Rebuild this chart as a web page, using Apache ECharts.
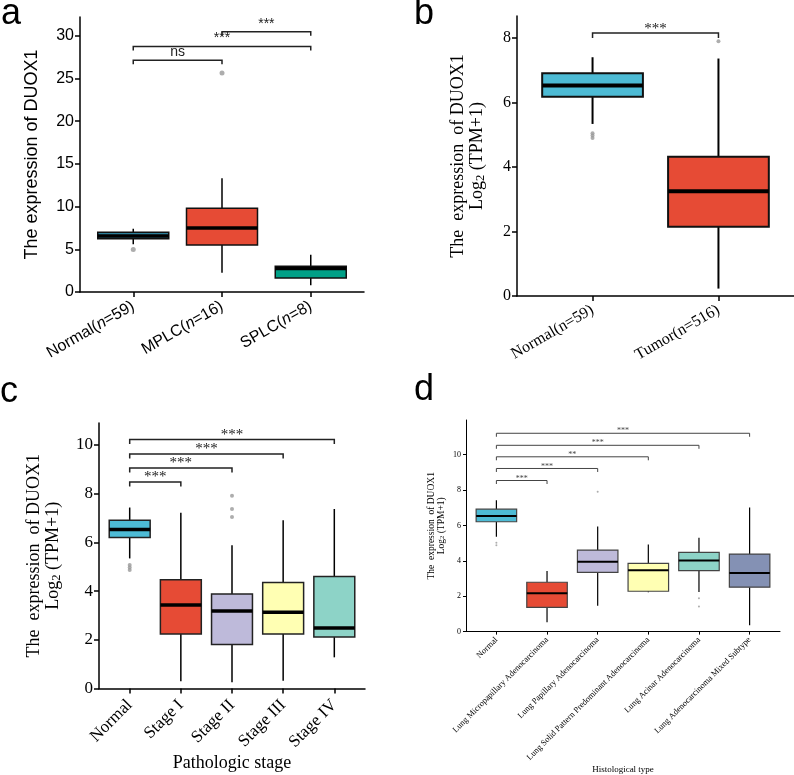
<!DOCTYPE html>
<html>
<head>
<meta charset="utf-8">
<script src="https://cdn.jsdelivr.net/npm/echarts@6/dist/echarts.min.js"></script>
<style>
  html, body { margin: 0; background: #fff; }
  #chart { width: 794px; height: 775px; }
</style>
</head>
<body>
<div id="chart"></div>
<script>
// ---- panel a: DUOX1 in Normal / MPLC / SPLC ----
const catsA = ['Normal', 'MPLC', 'SPLC'];
const nA = [59, 16, 8];
// [min, Q1, median, Q3, max]
const boxA = [
  [5.6, 6.24, 6.55, 6.99, 7.42],
  [2.24, 5.5, 7.5, 9.82, 13.31],
  [0.79, 1.65, 2.75, 3.02, 4.36]
];
const outA = [[1, 4.99], [2, 25.64]];
const sigA = [[1, 2, 27.13], [1, 3, 28.74], [2, 3, 30.47]];
const sigLabA = ['ns', '***', '***'];
const ticksA = [0, 5, 10, 15, 20, 25, 30];

// ---- panel b: Normal vs Tumor ----
const catsB = ['Normal(n=59)', 'Tumor(n=516)'];
const boxB = [
  [5.34, 6.18, 6.53, 6.91, 7.41],
  [0.23, 2.15, 3.25, 4.32, 7.37]
];
const outB = [[1, 5.05], [1, 4.98], [1, 4.9], [2, 7.91]];
const sigB = [[1, 2, 8.16]];
const sigLabB = ['***'];
const ticksB = [0, 2, 4, 6, 8];

// ---- panel c: pathologic stage ----
const catsC = ['Normal', 'Stage I', 'Stage II', 'Stage III', 'Stage IV'];
const boxC = [
  [5.34, 6.2, 6.53, 6.91, 7.43],
  [0.3, 2.24, 3.43, 4.46, 7.22],
  [0.26, 1.81, 3.18, 3.88, 5.88],
  [0.32, 2.24, 3.13, 4.35, 6.91],
  [1.28, 2.11, 2.48, 4.6, 7.37]
];
const outC = [[1, 5.07], [1, 4.97], [1, 4.87], [3, 7.91], [3, 7.37], [3, 7.04]];
const sigC = [[1, 2, 8.48], [1, 3, 9.05], [1, 4, 9.63], [1, 5, 10.22]];
const sigLabC = ['***', '***', '***', '***'];
const ticksC = [0, 2, 4, 6, 8, 10];

// ---- panel d: histological type ----
const catsD = ['Normal', 'Lung Micropapillary Adenocarcinoma', 'Lung Papillary Adenocarcinoma',
  'Lung Solid Pattern Predominant Adenocarcinoma', 'Lung Acinar Adenocarcinoma',
  'Lung Adenocarcinoma Mixed Subtype'];
const boxD = [
  [5.36, 6.21, 6.53, 6.92, 7.42],
  [0.53, 1.37, 2.17, 2.79, 3.42],
  [1.46, 3.35, 3.95, 4.61, 5.94],
  [2.22, 2.28, 3.47, 3.86, 4.93],
  [2.24, 3.45, 4.02, 4.48, 5.3],
  [0.36, 2.51, 3.31, 4.38, 7.01]
];
const outD = [[1, 5.02], [1, 4.88], [3, 7.9], [5, 1.89], [5, 1.42]];
const sigD = [[1, 2, 8.54], [1, 3, 9.22], [1, 4, 9.88], [1, 5, 10.53], [1, 6, 11.21]];
const sigLabD = ['***', '***', '**', '***', '***'];
const ticksD = [0, 2, 4, 6, 8, 10];

const SANS = 'Liberation Sans, Arial, sans-serif';
const SERIF = 'Liberation Serif, Times New Roman, serif';

const chart = echarts.init(document.getElementById('chart'));

function boxRender(colors, st) {
  return function (params, api) {
    const x = api.value(0);
    const pMin = api.coord([x, api.value(1)]);
    const pQ1 = api.coord([x, api.value(2)]);
    const pMed = api.coord([x, api.value(3)]);
    const pQ3 = api.coord([x, api.value(4)]);
    const pMax = api.coord([x, api.value(5)]);
    const xl = api.coord([x - 0.4, 0])[0];
    const xr = api.coord([x + 0.4, 0])[0];
    return {
      type: 'group',
      children: [
        { type: 'line', shape: { x1: pMin[0], y1: pMin[1], x2: pQ1[0], y2: pQ1[1] },
          style: { stroke: '#000', lineWidth: st.lw } },
        { type: 'line', shape: { x1: pQ3[0], y1: pQ3[1], x2: pMax[0], y2: pMax[1] },
          style: { stroke: '#000', lineWidth: st.lw } },
        { type: 'rect', shape: { x: xl, y: pQ3[1], width: xr - xl, height: pQ1[1] - pQ3[1] },
          style: { fill: colors[params.dataIndex], stroke: st.border, lineWidth: st.bw } },
        { type: 'line', shape: { x1: xl, y1: pMed[1], x2: xr, y2: pMed[1] },
          style: { stroke: '#000', lineWidth: st.mw } }
      ]
    };
  };
}

function sigRender(labels, st) {
  return function (params, api) {
    const y = api.value(2);
    const p1 = api.coord([api.value(0), y]);
    const p2 = api.coord([api.value(1), y]);
    return {
      type: 'group',
      children: [
        { type: 'polyline',
          shape: { points: [[p1[0], p1[1] + st.drop], [p1[0], p1[1]], [p2[0], p2[1]], [p2[0], p2[1] + st.drop]] },
          style: { stroke: st.color, lineWidth: st.lw, fill: null } },
        { type: 'text', x: (p1[0] + p2[0]) / 2, y: p1[1] - st.gap,
          style: { text: labels[params.dataIndex], align: 'center', verticalAlign: 'bottom',
                   fontSize: st.fs, fontFamily: st.font, fill: st.color } }
      ]
    };
  };
}

const grids = [
  { left: 80, top: 17, width: 284, height: 275 },
  { left: 517, top: 16, width: 277, height: 280 },
  { left: 99, top: 423, width: 266, height: 265.5 },
  { left: 466, top: 420, width: 314, height: 224 }
];

function xAxisFor(i, n, cats, st) {
  const vals = cats.map((c, k) => k + 1);
  return {
    type: 'value', gridIndex: i, min: 0.4, max: n + 0.6,
    axisLine: { show: true, lineStyle: { color: '#000', width: st.aw } },
    axisTick: { show: true, customValues: vals, length: st.tl, lineStyle: { color: '#000', width: st.aw } },
    axisLabel: {
      customValues: vals, rotate: st.rot, margin: st.lm, color: '#000',
      fontSize: st.fs, fontFamily: st.font,
      formatter: st.fmt || (v => cats[Math.round(v) - 1]),
      rich: st.rich
    },
    splitLine: { show: false },
    name: st.name || '', nameLocation: 'middle', nameGap: st.ng || 0,
    nameTextStyle: { fontSize: st.nfs, fontFamily: st.font, color: '#000' }
  };
}

function yAxisFor(i, max, ticks, st) {
  return {
    type: 'value', gridIndex: i, min: 0, max: max,
    axisLine: { show: true, lineStyle: { color: '#000', width: st.aw } },
    axisTick: { show: true, customValues: ticks, length: st.tl, lineStyle: { color: '#000', width: st.aw } },
    axisLabel: { customValues: ticks, color: '#000', fontSize: st.fs, fontFamily: st.font, margin: st.lm },
    splitLine: { show: false },
    name: st.name, nameLocation: 'middle', nameRotate: 90, nameGap: st.ng,
    nameTextStyle: {
      fontSize: st.nfs, fontFamily: st.font, color: '#000', lineHeight: st.nlh,
      rich: {
        n: { fontSize: st.nfs, fontFamily: st.font, color: '#000', lineHeight: st.nlh },
        s: { fontSize: st.nfs * 0.7, fontFamily: st.font, color: '#000', lineHeight: st.nfs * 0.45, verticalAlign: 'bottom' }
      }
    }
  };
}

const yName2 = 'The  expression  of DUOX1\n{n|Log}{s|2}{n| (TPM+1)}';

const option = {
  animation: false,
  backgroundColor: '#fff',
  grid: grids,
  xAxis: [
    xAxisFor(0, 3, catsA, {
      aw: 1.5, tl: 5, rot: 30, lm: 13, fs: 16, font: SANS,
      fmt: v => { const k = Math.round(v) - 1; return '{t|' + catsA[k] + '(}{i|n}{t|=' + nA[k] + ')}'; },
      rich: { t: { fontSize: 16, fontFamily: SANS, color: '#000' },
              i: { fontSize: 16, fontFamily: SANS, fontStyle: 'italic', color: '#000' } }
    }),
    xAxisFor(1, 2, catsB, { aw: 1.5, tl: 5, rot: 30, lm: 13, fs: 16, font: SERIF }),
    xAxisFor(2, 5, catsC, { aw: 1.5, tl: 5, rot: 45, lm: 14, fs: 17, font: SERIF,
      name: 'Pathologic stage', ng: 66, nfs: 18 }),
    xAxisFor(3, 6, catsD, { aw: 1, tl: 3, rot: 45, lm: 7, fs: 8.5, font: SERIF,
      name: 'Histological type', ng: 118, nfs: 9 })
  ],
  yAxis: [
    yAxisFor(0, 32.2, ticksA, { aw: 1.5, tl: 5, fs: 16, font: SANS, lm: 6,
      name: 'The expression of DUOX1', ng: 38, nfs: 18, nlh: 20 }),
    yAxisFor(1, 8.69, ticksB, { aw: 1.5, tl: 5, fs: 16, font: SERIF, lm: 6,
      name: yName2, ng: 30, nfs: 18, nlh: 19 }),
    yAxisFor(2, 10.9, ticksC, { aw: 1.5, tl: 5, fs: 17, font: SERIF, lm: 6,
      name: yName2, ng: 36, nfs: 18, nlh: 19 }),
    yAxisFor(3, 11.96, ticksD, { aw: 1, tl: 3, fs: 8, font: SERIF, lm: 5,
      name: yName2, ng: 20, nfs: 9.5, nlh: 10 })
  ],
  series: [
    { type: 'custom', xAxisIndex: 0, yAxisIndex: 0, data: boxA.map((b, i) => [i + 1].concat(b)),
      renderItem: boxRender(['#2C7F9A', '#E64B35', '#00A087'], { lw: 1.5, bw: 1.5, mw: 3.5, border: '#111' }) },
    { type: 'custom', xAxisIndex: 1, yAxisIndex: 1, data: boxB.map((b, i) => [i + 1].concat(b)),
      renderItem: boxRender(['#4DBBD5', '#E64B35'], { lw: 2, bw: 2, mw: 4, border: '#111' }) },
    { type: 'custom', xAxisIndex: 2, yAxisIndex: 2, data: boxC.map((b, i) => [i + 1].concat(b)),
      renderItem: boxRender(['#4DBBD5', '#E64B35', '#BEBADA', '#FFFFB3', '#8DD3C7'], { lw: 1.5, bw: 1.5, mw: 3.5, border: '#222' }) },
    { type: 'custom', xAxisIndex: 3, yAxisIndex: 3, data: boxD.map((b, i) => [i + 1].concat(b)),
      renderItem: boxRender(['#4DBBD5', '#E64B35', '#BEBADA', '#FFFFB3', '#8DD3C7', '#8491B4'], { lw: 1.2, bw: 1.2, mw: 2, border: '#444' }) },

    { type: 'scatter', xAxisIndex: 0, yAxisIndex: 0, data: outA, symbolSize: 5, itemStyle: { color: '#999' } },
    { type: 'scatter', xAxisIndex: 1, yAxisIndex: 1, data: outB, symbolSize: 4, itemStyle: { color: '#999' } },
    { type: 'scatter', xAxisIndex: 2, yAxisIndex: 2, data: outC, symbolSize: 4, itemStyle: { color: '#999' } },
    { type: 'scatter', xAxisIndex: 3, yAxisIndex: 3, data: outD, symbolSize: 2, itemStyle: { color: '#999' } },

    { type: 'custom', xAxisIndex: 0, yAxisIndex: 0, data: sigA,
      renderItem: sigRender(sigLabA, { drop: 4, lw: 1.5, color: '#222', gap: 1, fs: 14, font: SANS }) },
    { type: 'custom', xAxisIndex: 1, yAxisIndex: 1, data: sigB,
      renderItem: sigRender(sigLabB, { drop: 5, lw: 1.5, color: '#222', gap: -3, fs: 15, font: SERIF }) },
    { type: 'custom', xAxisIndex: 2, yAxisIndex: 2, data: sigC,
      renderItem: sigRender(sigLabC, { drop: 4.5, lw: 1.5, color: '#222', gap: -3, fs: 15, font: SERIF }) },
    { type: 'custom', xAxisIndex: 3, yAxisIndex: 3, data: sigD,
      renderItem: sigRender(sigLabD, { drop: 3.5, lw: 1, color: '#444', gap: -2, fs: 8, font: SERIF }) }
  ],
  graphic: [
    { type: 'text', left: 1, top: -4, style: { text: 'a', fontSize: 36, fontFamily: SANS, fill: '#000' } },
    { type: 'text', left: 414, top: -4, style: { text: 'b', fontSize: 36, fontFamily: SANS, fill: '#000' } },
    { type: 'text', left: 0, top: 374, style: { text: 'c', fontSize: 36, fontFamily: SANS, fill: '#000' } },
    { type: 'text', left: 414, top: 372, style: { text: 'd', fontSize: 36, fontFamily: SANS, fill: '#000' } }
  ]
};

chart.setOption(option);
</script>
</body>
</html>
